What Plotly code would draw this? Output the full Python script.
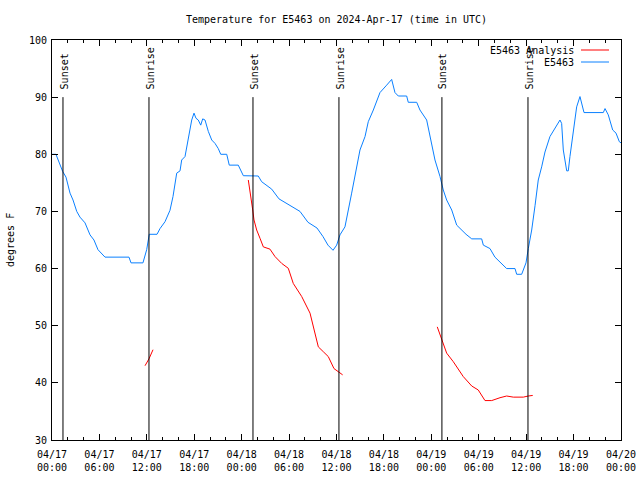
import pandas as pd
import plotly.graph_objects as go

# ---------------- data ----------------
start = pd.Timestamp("2024-04-17 00:00")

obs_hours = [0.00, 0.5, 1.35, 1.77, 2.28, 2.66, 3.13, 3.54, 4.18, 4.81, 5.31, 5.82, 6.71, 9.74, 10.0,
             11.51, 11.98, 12.31, 13.29, 13.67, 14.30, 14.93, 15.31, 15.78, 16.2, 16.41, 16.83, 17.12,
             17.46, 17.68, 17.97, 18.22, 18.51, 18.82, 19.07, 19.36, 19.78, 20.21, 20.63, 21.04, 21.35,
             22.11, 22.43, 23.57, 24.21, 26.10, 26.53, 27.80, 28.72, 30.12, 31.38, 32.39, 33.53, 34.29,
             34.92, 35.56, 36.02, 36.44, 37.07, 37.92, 38.34, 38.97, 39.61, 40.02, 40.66, 41.50, 42.35,
             42.98, 43.40, 43.82, 44.88, 45.08, 46.15, 46.56, 47.41, 47.83, 48.46, 49.10, 49.51, 49.94,
             50.58, 51.21, 51.63, 52.39, 53.11, 54.37, 54.58, 55.42, 56.05, 56.69, 57.53, 58.59, 58.80,
             59.43, 59.98, 60.27, 60.70, 61.12, 61.53, 61.96, 62.38, 63.01, 63.86, 64.28, 64.49, 64.70,
             65.13, 65.33, 65.54, 65.96, 66.39, 66.81, 67.32, 69.76, 69.98, 70.39, 70.95, 71.37, 71.79,
             72.0]
obs_temp = [80, 80, 77, 76, 73.2, 72, 70, 69, 68, 65.9, 65, 63.3, 62, 62, 61,
            61, 63.3, 66, 66, 67, 68.2, 70.2, 72.6, 76.7, 77.1, 79, 79.6, 81.6,
            84.5, 86, 87.2, 86.3, 86, 85.1, 86.2, 86, 84, 82.5, 81.9, 81, 80,
            80, 78.1, 78.1, 76.25, 76.2, 75.2, 73.9, 72.2, 71.1, 70, 68.1, 67.1, 65.6,
            64.1, 63.2, 64.1, 65.9, 67.3, 73.2, 76.4, 80.75, 83.1, 85.7, 87.75, 90.8, 92.1,
            93.1, 90.8, 90.2, 90.2, 89.1, 89.1, 87.75, 86, 83.1, 79, 76.1, 73.75, 72,
            70.25, 67.6, 67, 66, 65.2, 65.2, 64.1, 63.5, 62, 61.1, 60, 60, 59,
            59, 61, 63.5, 66.75, 71, 75.5, 77.8, 80.4, 83.1, 85.1, 86, 85.4, 80.75,
            77.1, 77.1, 79.6, 84.25, 88.3, 90.1, 87.3, 87.3, 88, 86.9, 84.25, 83.7, 82.2,
            82]

ana_hours = [11.77, 12.27, 12.78, None,
             24.84, 25.05, 25.40, 25.56, 25.90, 26.32, 26.74, 27.58, 28.22, 29.07, 29.90, 30.53,
             31.60, 32.65, 33.06, 33.70, 34.33, 34.96, 35.68, 36.23, 36.78, None,
             48.75, 49.44, 49.94, 50.78, 52.04, 53.11, 53.94, 54.79, 55.64, 56.69, 57.53, 58.37,
             59.64, 60.27, 60.83]
ana_temp = [43, 44.2, 45.8, None,
            75.5, 73.75, 70.25, 68.5, 66.75, 65.3, 63.8, 63.4, 62.1, 60.9, 60.05, 57.4,
            55.1, 52.2, 49.8, 46.3, 45.45, 44.6, 42.5, 42, 41.4, None,
            49.8, 46.9, 45.2, 43.7, 41.1, 39.45, 38.75, 36.9, 36.9, 37.4, 37.7, 37.5,
            37.5, 37.7, 37.8]

sun_hours = [1.39, 12.27, 25.43, 36.31, 49.34, 60.23]
sun_labels = ["Sunset", "Sunrise", "Sunset", "Sunrise", "Sunset", "Sunrise"]

tick_hours = [0, 6, 12, 18, 24, 30, 36, 42, 48, 54, 60, 66, 72]
tick_text = ["04/17<br>00:00", "04/17<br>06:00", "04/17<br>12:00", "04/17<br>18:00",
             "04/18<br>00:00", "04/18<br>06:00", "04/18<br>12:00", "04/18<br>18:00",
             "04/19<br>00:00", "04/19<br>06:00", "04/19<br>12:00", "04/19<br>18:00",
             "04/20<br>00:00"]

series_names = ["E5463 Analysis", "E5463"]
series_colors = ["#ff0000", "#0a80ff"]


def to_time(hours):
    return [None if h is None else start + pd.Timedelta(hours=h) for h in hours]


FONT = "DejaVu Sans Mono"

fig = go.Figure()
fig.add_trace(go.Scatter(x=to_time(obs_hours), y=obs_temp, mode="lines", name=series_names[1],
                         line=dict(color=series_colors[1], width=1), showlegend=False))
fig.add_trace(go.Scatter(x=to_time(ana_hours), y=ana_temp, mode="lines", name=series_names[0],
                         line=dict(color=series_colors[0], width=1), connectgaps=False,
                         showlegend=False))

shapes = []
annotations = []
for h, lab in zip(sun_hours, sun_labels):
    t = start + pd.Timedelta(hours=h)
    shapes.append(dict(type="line", xref="x", yref="y", x0=t, x1=t, y0=30, y1=90,
                       line=dict(color="black", width=1)))
    annotations.append(dict(x=t, y=91, xref="x", yref="y", text=lab, showarrow=False,
                            textangle=-90, xanchor="center", yanchor="bottom", xshift=1,
                            font=dict(family=FONT, size=10, color="black")))

# custom legend (text right-aligned, sample line on right, like gnuplot)
plot_w = 569.0
plot_h = 400.0
for i, (nm, col) in enumerate(zip(series_names, series_colors)):
    ypix = 50 + 12 * i  # from top of figure
    yp = 1 - (ypix - 40) / plot_h
    annotations.append(dict(x=(576 - 52) / plot_w, y=yp, xref="paper", yref="paper", text=nm,
                            showarrow=False, xanchor="right", yanchor="middle",
                            font=dict(family=FONT, size=10, color="black")))
    shapes.append(dict(type="line", xref="paper", yref="paper",
                       x0=(581 - 52) / plot_w, x1=(609 - 52) / plot_w, y0=yp, y1=yp,
                       line=dict(color=col, width=1)))

annotations.append(dict(x=(10 - 52) / plot_w, y=0.5, xref="paper", yref="paper", text="degrees F",
                        showarrow=False, textangle=-90, xanchor="center", yanchor="middle",
                        font=dict(family=FONT, size=10, color="black")))

fig.update_layout(
    width=640, height=480,
    margin=dict(l=52, r=19, t=40, b=40, autoexpand=False),
    paper_bgcolor="white", plot_bgcolor="white",
    title=dict(text="Temperature for E5463 on 2024-Apr-17 (time in UTC)", x=0.5, xref="paper",
               xanchor="center", y=1 - 19 / 480, yanchor="middle", automargin=False,
               font=dict(family=FONT, size=10, color="black")),
    font=dict(family=FONT, size=10, color="black"),
    shapes=shapes, annotations=annotations, showlegend=False,
    xaxis=dict(range=[start, start + pd.Timedelta(hours=72)], tickvals=to_time(tick_hours),
               ticktext=tick_text, ticks="inside", ticklen=6, tickcolor="black", showgrid=False,
               zeroline=False, showline=True, linecolor="black", linewidth=1, mirror="allticks",
               automargin=False, ticklabelstandoff=5,
               minor=dict(dtick=2 * 3600 * 1000, tick0=start, ticks="inside", ticklen=3,
                          tickcolor="black", showgrid=False),
               tickfont=dict(family=FONT, size=10, color="black")),
    yaxis=dict(range=[30, 100], tickvals=[30, 40, 50, 60, 70, 80, 90, 100], ticks="inside",
               ticklen=6, tickcolor="black", showgrid=False, zeroline=False, showline=True,
               linecolor="black", linewidth=1, mirror="allticks", automargin=False,
               ticklabelstandoff=2,
               tickfont=dict(family=FONT, size=10, color="black")),
)

fig.write_html("out.html", config={"displayModeBar": False},
               post_script="document.body.style.margin='0';document.body.style.overflow='hidden';")
